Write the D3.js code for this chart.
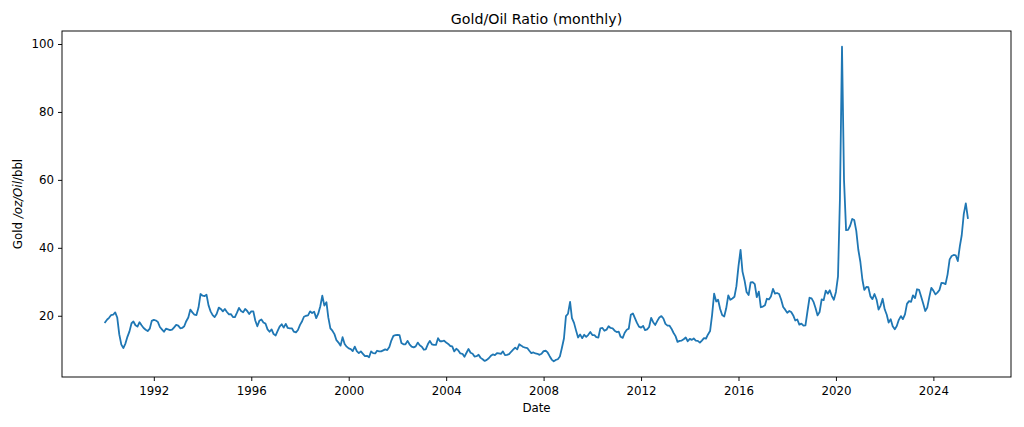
<!DOCTYPE html>
<html>
<head>
<meta charset="utf-8">
<script src="https://cdn.jsdelivr.net/npm/d3@7"></script>
<style>
  body { margin: 0; background: #fff; }
  svg text { font-family: "DejaVu Sans", sans-serif; fill: #000; }
</style>
</head>
<body>
<svg id="chart" width="1024" height="427"></svg>
<script>
// first month of the series, one value per month after it
const startMonth = new Date(1990, 0, 1);

// gold $/oz divided by oil $/bbl, monthly
const ratio1990s = [
  18.1, 18.9, 19.4, 20.2, 20.3, 21.0, 19.5, 14.5, 11.5, 10.5, 11.8, 13.8,
  15.4, 17.8, 18.3, 17.2, 16.8, 18.1, 17.2, 16.4, 15.9, 15.5, 16.2, 18.5,
  18.8, 18.6, 18.2, 16.7, 16.0, 15.3, 16.2, 16.0, 15.8, 15.9, 16.6, 17.3,
  17.1, 16.3, 16.4, 16.9, 18.4, 19.5, 21.8, 21.0, 20.3, 20.2, 22.4, 26.4,
  25.9, 25.8, 26.2, 23.0, 21.3, 20.2, 19.6, 20.6, 22.4, 22.0, 21.3, 22.0,
  21.1, 20.4, 20.5, 19.6, 19.6, 20.9, 22.3, 21.4, 21.0, 22.0, 21.4, 20.5,
  21.3, 21.3, 18.6, 16.9, 18.5, 18.9, 18.0, 17.7, 16.0, 15.3, 16.0, 14.6,
  14.2, 15.6, 16.8, 17.5, 16.5, 17.6, 16.4, 16.3, 16.3, 15.3, 15.1, 15.8,
  17.3, 18.4, 19.7, 20.0, 20.1, 21.3, 20.8, 21.2, 19.3, 20.6, 22.8, 25.9,
  23.0, 24.0, 19.5, 16.3, 15.6, 14.6, 12.8, 12.1, 11.2, 13.7, 11.7, 10.9
];
const ratio2000s = [
  10.4, 10.2, 9.6, 10.9, 9.6, 9.0, 9.5, 8.8, 8.1, 8.2, 7.8, 9.5,
  9.0, 8.9, 9.7, 9.5, 9.5, 9.8, 10.1, 9.9, 10.8, 12.7, 14.1, 14.3,
  14.4, 14.3, 12.0, 11.6, 11.6, 12.6, 11.6, 10.9, 10.7, 11.0, 12.1, 11.3,
  10.9, 10.0, 10.1, 11.6, 12.6, 11.6, 11.4, 11.4, 13.4, 12.5, 12.5, 12.7,
  12.1, 11.7, 11.1, 11.0, 9.5, 10.3, 9.8, 8.9, 8.8, 7.9, 9.1, 10.2,
  9.1, 8.8, 8.0, 8.1, 8.5, 7.6, 7.2, 6.7, 7.0, 7.5, 8.2, 8.6,
  8.4, 9.0, 8.9, 8.8, 9.5, 8.4, 8.5, 8.7, 9.4, 10.0, 10.6, 10.1,
  11.6, 11.2, 10.8, 10.6, 10.5, 9.7, 9.0, 9.2, 8.9, 8.8, 8.5, 8.8,
  9.6, 9.7, 9.2, 8.1, 7.1, 6.6, 7.0, 7.2, 8.0, 10.5, 13.3, 19.9,
  20.6, 24.1, 19.3, 17.9, 15.7, 13.6, 14.5, 13.4, 14.4, 13.8, 14.4, 15.2
];
const ratio2010s = [
  14.3, 14.3, 13.7, 13.6, 16.3, 16.4, 15.6, 15.9, 16.9, 16.4, 16.3, 15.6,
  15.2, 15.3, 13.8, 13.5, 15.0, 15.9, 16.2, 20.3, 20.7, 19.3, 17.9, 16.8,
  16.5, 17.0, 15.8, 16.0, 16.7, 19.4, 18.1, 17.3, 18.5, 19.5, 19.9, 19.2,
  17.6, 17.1, 17.1, 16.2, 15.0, 14.0, 12.3, 12.6, 12.7, 13.1, 13.6, 12.5,
  13.2, 12.9, 13.3, 12.7, 12.6, 12.1, 12.7, 13.4, 13.3, 14.5, 15.5, 20.2,
  26.5, 24.2, 24.7, 22.0, 20.2, 19.8, 22.2, 26.0, 24.7, 25.1, 25.6, 28.7,
  34.6, 39.4, 33.0, 30.4, 27.0, 26.1, 29.8, 29.9, 29.3, 25.5, 27.1, 22.5,
  22.7, 23.1, 25.0, 24.8, 25.7, 27.9, 26.5, 26.7, 26.4, 24.8, 22.6, 21.8,
  20.9, 21.4, 21.1, 20.1, 18.6, 18.9, 17.4, 17.7, 17.1, 17.2, 21.4, 25.3,
  25.1, 24.0, 22.3, 20.1, 21.1, 24.8, 24.6, 27.4, 26.5, 27.5, 25.8, 24.7
];
const ratio2020s = [
  27.0, 31.6, 54.5, 99.2, 60.0, 45.2, 45.3, 46.5, 48.5, 48.2, 45.0, 39.5,
  35.9, 30.6, 27.6, 28.5, 28.4, 25.7, 24.9, 26.4, 24.8, 21.8, 23.0, 25.0,
  21.9, 20.3, 18.0, 19.0, 16.9, 16.0, 17.0, 18.8, 19.9, 19.0, 20.4, 23.5,
  24.3, 24.1, 26.0, 25.2, 27.8, 27.6, 25.7, 23.6, 21.4, 22.4, 25.5, 28.2,
  27.4, 26.3, 26.8, 27.6, 29.7, 29.6, 29.3, 32.2, 36.6, 37.6, 37.9, 37.8,
  36.1, 40.5, 43.7, 50.0, 53.1, 48.8
];

const xTickYears = [1992, 1996, 2000, 2004, 2008, 2012, 2016, 2020, 2024];
const yTicks = [20, 40, 60, 80, 100];

var values = ratio1990s.concat(ratio2000s, ratio2010s, ratio2020s);
var data = values.map(function(v, i) {
  return { date: d3.timeMonth.offset(startMonth, i), value: v };
});

var margin = { left: 62, right: 13, top: 31, bottom: 50 };
var W = 1024, H = 427;
var svg = d3.select('#chart');

// matplotlib style 5% padding on both axes
var xExt = d3.extent(data, function(d) { return d.date; });
var xPad = (xExt[1] - xExt[0]) * 0.05;
var x = d3.scaleTime()
  .domain([new Date(+xExt[0] - xPad), new Date(+xExt[1] + xPad)])
  .range([margin.left, W - margin.right]);

var yExt = d3.extent(values);
var yPad = (yExt[1] - yExt[0]) * 0.05;
var y = d3.scaleLinear()
  .domain([yExt[0] - yPad, yExt[1] + yPad])
  .range([H - margin.bottom, margin.top]);

var fontSize = '11.8px';

//x axis
var xAxis = svg.append('g')
  .attr('transform', 'translate(0,' + (H - margin.bottom) + ')')
  .call(d3.axisBottom(x)
    .tickValues(xTickYears.map(function(yr) { return new Date(yr, 0, 1); }))
    .tickFormat(d3.timeFormat('%Y'))
    .tickSize(4)
    .tickPadding(5.5)
    .tickSizeOuter(0));

//y axis
var yAxis = svg.append('g')
  .attr('transform', 'translate(' + margin.left + ',0)')
  .call(d3.axisLeft(y)
    .tickValues(yTicks)
    .tickSize(4)
    .tickPadding(4)
    .tickSizeOuter(0));

[xAxis, yAxis].forEach(function(g) {
  g.attr('font-family', null).attr('font-size', null);
  g.select('.domain').remove();
  g.selectAll('.tick line').attr('stroke', '#000').attr('stroke-width', 0.95);
  g.selectAll('.tick text').style('font-size', fontSize).attr('fill', '#000');
});

//the line
svg.append('path')
  .datum(data)
  .attr('fill', 'none')
  .attr('stroke', '#1f77b4')
  .attr('stroke-width', 1.8)
  .attr('stroke-linejoin', 'round')
  .attr('stroke-linecap', 'square')
  .attr('d', d3.line()
    .x(function(d) { return x(d.date); })
    .y(function(d) { return y(d.value); }));

//frame
svg.append('rect')
  .attr('x', margin.left)
  .attr('y', margin.top)
  .attr('width', W - margin.left - margin.right)
  .attr('height', H - margin.top - margin.bottom)
  .attr('fill', 'none')
  .attr('stroke', '#000')
  .attr('stroke-width', 0.95);

var cx = (margin.left + W - margin.right) / 2;

//title
svg.append('text')
  .attr('x', cx)
  .attr('y', 24)
  .attr('text-anchor', 'middle')
  .style('font-size', '14.2px')
  .text('Gold/Oil Ratio (monthly)');

//x label
svg.append('text')
  .attr('x', cx)
  .attr('y', 412)
  .attr('text-anchor', 'middle')
  .style('font-size', fontSize)
  .text('Date');

//y label, the middle part is mathtext italic in the original
var yl = svg.append('text')
  .attr('transform', 'translate(22,' + ((margin.top + H - margin.bottom) / 2) + ') rotate(-90)')
  .attr('text-anchor', 'middle')
  .style('font-size', fontSize);
yl.append('tspan').text('Gold ');
yl.append('tspan').style('font-style', 'italic').text('/oz/Oil');
yl.append('tspan').text('/bbl');
</script>
</body>
</html>
